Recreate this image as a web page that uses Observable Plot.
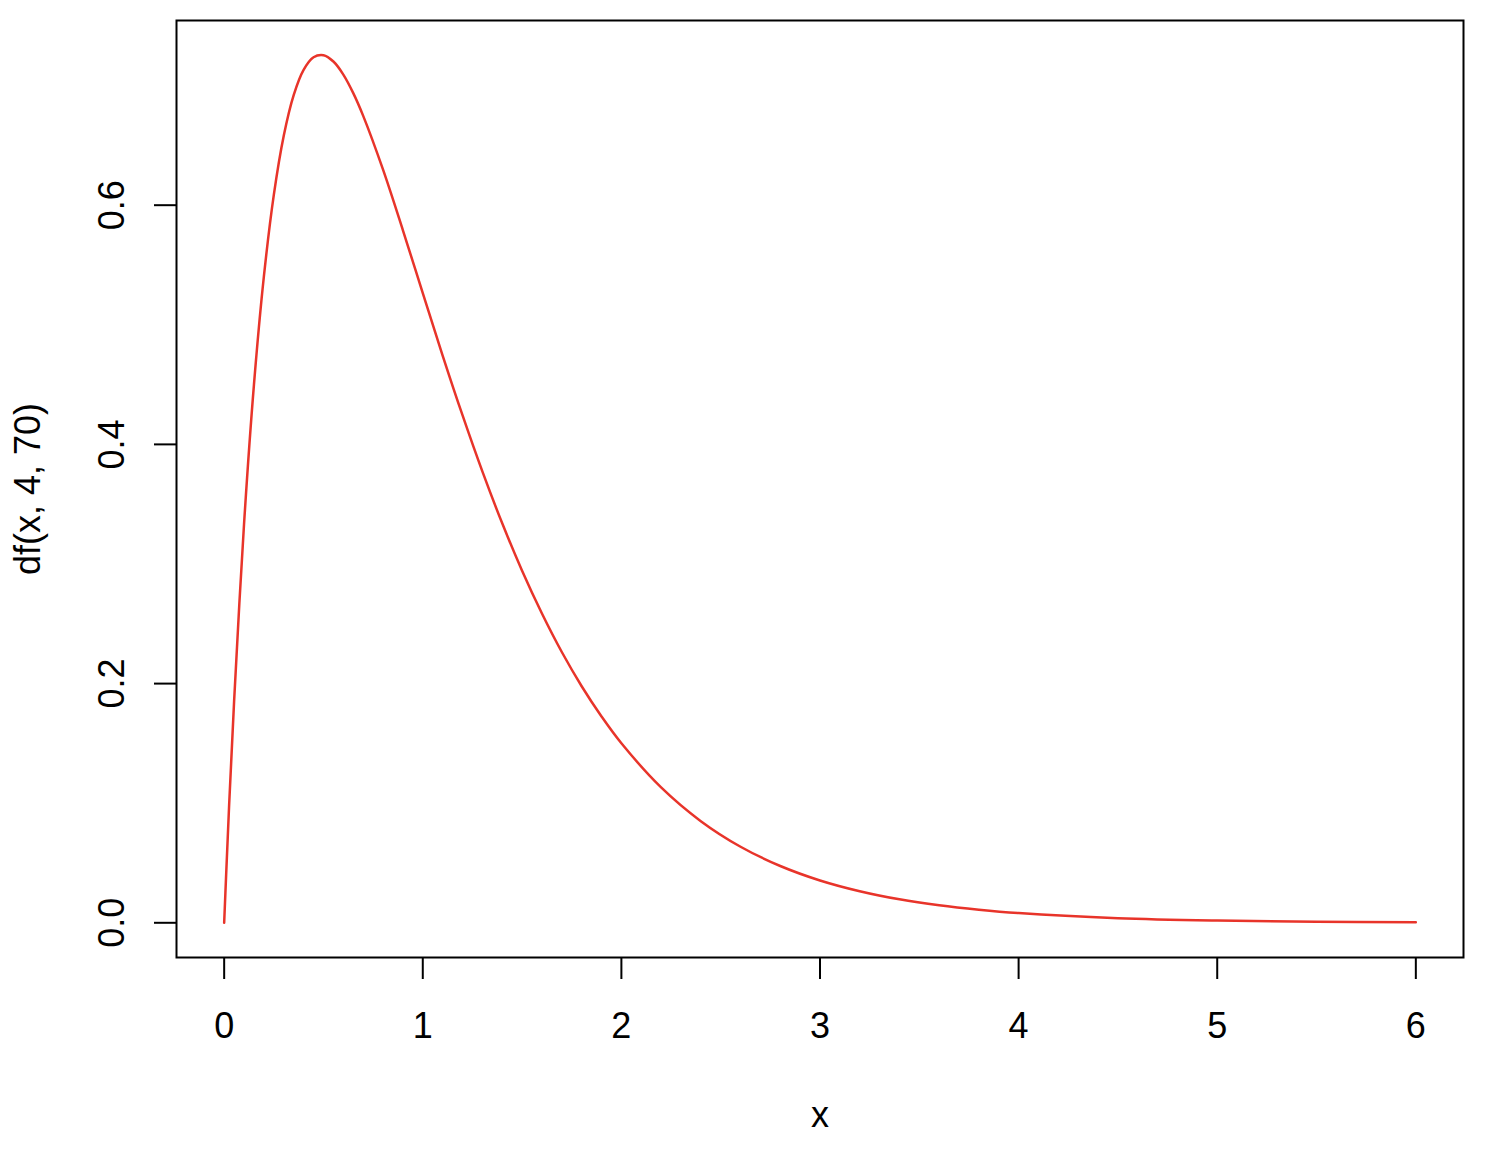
<!DOCTYPE html>
<html>
<head>
<meta charset="utf-8">
<script src="https://cdn.jsdelivr.net/npm/d3@7"></script>
<script src="https://cdn.jsdelivr.net/npm/@observablehq/plot@0.6"></script>
<style>
  html, body { margin: 0; padding: 0; background: white; }
  #chart svg { display: block; }
</style>
</head>
<body>
<div id="chart"></div>
<script>
// Values: density curve df(x, 4, 70)
const xs = [0, 0.01, 0.025, 0.05, 0.1, 0.15, 0.2, 0.25, 0.3, 0.35, 0.4, 0.45, 0.5, 0.55, 0.6, 0.65, 0.7, 0.8, 0.9,
  1.0, 1.1, 1.2, 1.3, 1.4, 1.5, 1.6, 1.7, 1.8, 1.9, 2.0, 2.2, 2.4, 2.6, 2.8, 3.0, 3.2, 3.4, 3.6, 3.8,
  4.0, 4.5, 5.0, 5.5, 6.0];
const ys = [0, 0.0403, 0.0985, 0.1851, 0.3332, 0.4500, 0.5404, 0.6086, 0.6581, 0.6921, 0.7132, 0.7237, 0.7254,
  0.7201, 0.7092, 0.6937, 0.6747, 0.6297, 0.5790, 0.5265, 0.4743, 0.4244, 0.3774, 0.3340, 0.2944, 0.2586, 0.2264, 0.1978,
  0.1725, 0.1501, 0.1132, 0.0850, 0.0636, 0.0475, 0.0354, 0.0264, 0.0196, 0.0146, 0.0109, 0.0081, 0.0039,
  0.0019, 0.0009, 0.0005];
const xTicks = [0, 1, 2, 3, 4, 5, 6];
const xTickLabels = ["0", "1", "2", "3", "4", "5", "6"];
const yTicks = [0, 0.2, 0.4, 0.6];
const yTickLabels = ["0.0", "0.2", "0.4", "0.6"];
const xTitle = "x";
const yTitle = "df(x, 4, 70)";

const data = xs.map((x, i) => ({x, y: ys[i]}));
const xLab = xTicks.map((v, i) => ({v, t: xTickLabels[i]}));
const yLab = yTicks.map((v, i) => ({v, t: yTickLabels[i]}));

const font = "'Liberation Sans', Arial, Helvetica, sans-serif";
const fs = 36;
const ymax = d3.max(ys);

const chart = Plot.plot({
  width: 1496,
  height: 1158,
  marginLeft: 176,
  marginRight: 33,
  marginTop: 20,
  marginBottom: 201,
  style: {fontFamily: font, fontSize: fs + "px", background: "white", color: "black"},
  x: {domain: [-0.24, 6.24], axis: null},
  y: {domain: [-0.04 * ymax, 1.04 * ymax], axis: null},
  marks: [
    Plot.frame({stroke: "black", strokeWidth: 2}),
    Plot.axisX(xTicks, {anchor: "bottom", tickSize: 22, strokeWidth: 2, tickFormat: () => "", label: null}),
    Plot.axisY(yTicks, {anchor: "left", tickSize: 22, strokeWidth: 2, tickFormat: () => "", label: null}),
    Plot.text(xLab, {x: "v", text: "t", frameAnchor: "bottom", dy: 69, lineAnchor: "middle", fontSize: fs, fill: "black"}),
    Plot.text(yLab, {y: "v", text: "t", frameAnchor: "left", dx: -64, rotate: -90, lineAnchor: "middle", textAnchor: "middle", fontSize: fs, fill: "black"}),
    Plot.text([xTitle], {frameAnchor: "bottom", dy: 158, lineAnchor: "middle", fontSize: fs, fill: "black"}),
    Plot.text([yTitle], {frameAnchor: "left", dx: -148, rotate: -90, lineAnchor: "middle", textAnchor: "middle", fontSize: fs, fill: "black"}),
    Plot.line(data, {x: "x", y: "y", stroke: "#e8342a", strokeWidth: 2.5, curve: "catmull-rom"})
  ]
});
document.getElementById("chart").appendChild(chart);
</script>
</body>
</html>
